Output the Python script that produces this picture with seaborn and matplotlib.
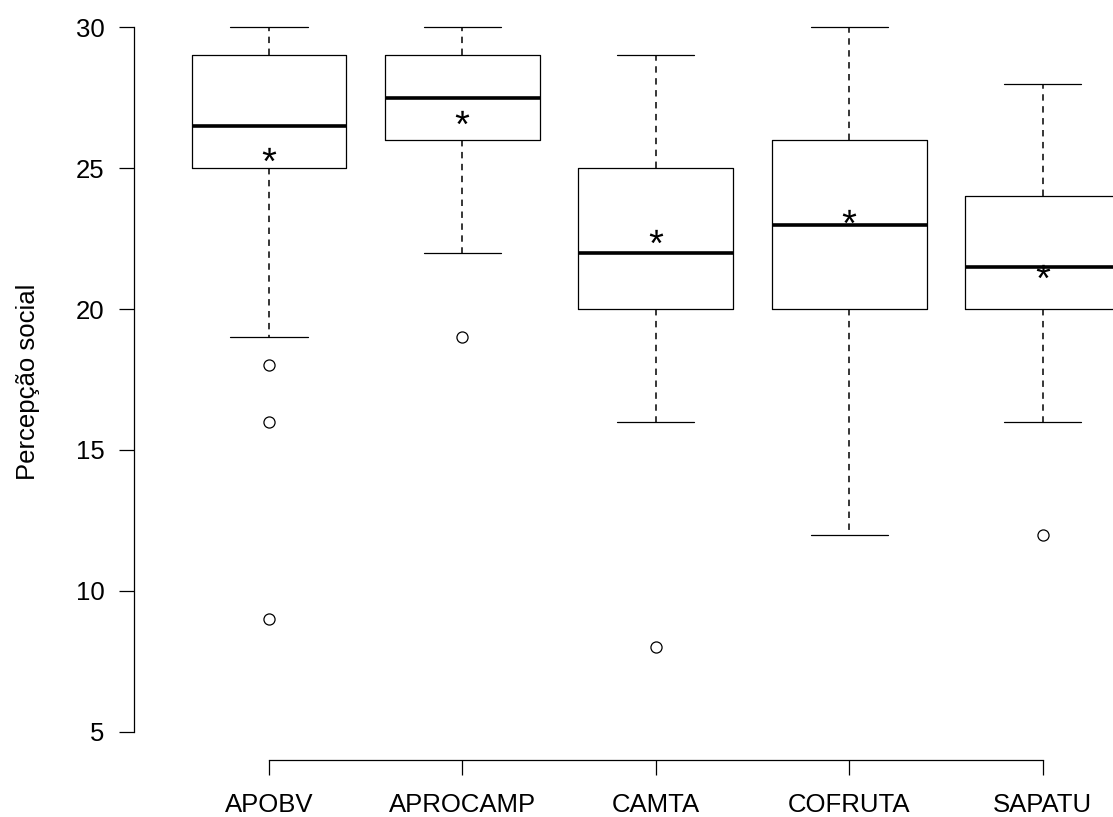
import matplotlib
matplotlib.use("Agg")
import matplotlib.pyplot as plt
import seaborn as sns

# ---- data ----
groups = ["APOBV", "APROCAMP", "CAMTA", "COFRUTA", "SAPATU"]
whisker_low = [19, 22, 16, 12, 16]
q1 = [25, 26, 20, 20, 20]
median = [26.5, 27.5, 22, 23, 21.5]
q3 = [29, 29, 25, 26, 24]
whisker_high = [30, 30, 29, 30, 28]
outliers = [[18, 16, 9], [19], [8], [], [12]]
means = [25.5, 26.8, 22.6, 23.3, 21.35]
y_ticks = [5, 10, 15, 20, 25, 30]
y_label = "Percepção social"

sns.set_style("ticks")
plt.rcParams["font.family"] = ["Liberation Sans", "DejaVu Sans"]
plt.rcParams["mathtext.fontset"] = "custom"
plt.rcParams["mathtext.rm"] = "Liberation Sans"
plt.rcParams["mathtext.default"] = "regular"

fig = plt.figure(figsize=(11.13, 8.17), dpi=100)
ax = fig.add_axes([0.12, 0.0698, 0.9384, 0.9313])

positions = list(range(1, len(groups) + 1))
stats = [
    dict(label=g, whislo=wl, q1=a, med=m, q3=b, whishi=wh, fliers=o)
    for g, wl, a, m, b, wh, o in zip(groups, whisker_low, q1, median, q3, whisker_high, outliers)
]
lw = 0.9
ax.bxp(
    stats,
    positions=positions,
    widths=0.8,
    capwidths=0.4,
    showfliers=True,
    boxprops=dict(color="black", linewidth=lw),
    whiskerprops=dict(color="black", linewidth=1.1, linestyle=(0, (4.2, 3.6))),
    capprops=dict(color="black", linewidth=lw),
    medianprops=dict(color="black", linewidth=2.6, solid_capstyle="butt"),
    flierprops=dict(marker="o", markerfacecolor="none", markeredgecolor="black",
                    markersize=8, markeredgewidth=lw),
)

sns.scatterplot(x=positions, y=means, marker="$*$", s=95, color="black",
                linewidth=0, ax=ax, zorder=5)

ax.set_xlim(0.3, 5.7)
ax.set_ylim(4, 31)
ax.set_xticks(positions, groups)
ax.set_yticks(y_ticks, [str(t) for t in y_ticks])
ax.tick_params(axis="both", length=10.5, width=lw, color="black", labelsize=18.5,
               labelcolor="black")
ax.tick_params(axis="y", pad=10.5)
ax.tick_params(axis="x", pad=13.5)
sns.despine(ax=ax)
ax.spines["left"].set_bounds(5, 30)
ax.spines["bottom"].set_bounds(1, 5)
for s in ("left", "bottom"):
    ax.spines[s].set_linewidth(lw)
    ax.spines[s].set_color("black")

ax.set_xlabel("")
ax.set_ylabel(y_label, fontsize=18.5, color="black")
ax.yaxis.label.set_va("center")
ax.yaxis.label.set_ha("center")
ax.yaxis.set_label_coords(-0.1006, 0.497)

fig.savefig("out.png", dpi=100)
